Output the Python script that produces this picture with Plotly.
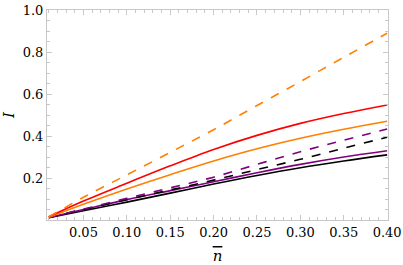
import plotly.graph_objects as go

n_bar = [0.01, 0.05, 0.10, 0.15, 0.20, 0.25, 0.30, 0.35, 0.40]

red_solid = [0.015, 0.090, 0.175, 0.258, 0.336, 0.403, 0.460, 0.507, 0.548]
orange_dashed = [0.015, 0.108, 0.215, 0.322, 0.430, 0.545, 0.659, 0.775, 0.889]
orange_solid = [0.013, 0.075, 0.148, 0.216, 0.281, 0.339, 0.389, 0.432, 0.470]
purple_dashed = [0.012, 0.052, 0.103, 0.153, 0.204, 0.265, 0.325, 0.380, 0.433]
black_dashed = [0.012, 0.050, 0.097, 0.143, 0.190, 0.240, 0.289, 0.342, 0.394]
purple_solid = [0.012, 0.050, 0.097, 0.140, 0.182, 0.225, 0.265, 0.300, 0.330]
black_solid = [0.011, 0.044, 0.085, 0.128, 0.171, 0.212, 0.249, 0.281, 0.310]

x_ticks = [0.05, 0.10, 0.15, 0.20, 0.25, 0.30, 0.35, 0.40]
y_ticks = [0.2, 0.4, 0.6, 0.8, 1.0]

series = [
    (black_solid, "black", "solid"),
    (purple_solid, "#800080", "solid"),
    (black_dashed, "black", "dash"),
    (purple_dashed, "#800080", "dash"),
    (orange_solid, "#FF8000", "solid"),
    (red_solid, "#FF0000", "solid"),
    (orange_dashed, "#FF8000", "dash"),
]

SERIF = "DejaVu Serif"

fig = go.Figure()
for ys, col, dash in series:
    fig.add_trace(go.Scatter(x=n_bar, y=ys, mode="lines",
                             line=dict(color=col, width=1.6, dash=dash, shape="spline", smoothing=1.0),
                             showlegend=False, hoverinfo="skip"))

axis_common = dict(showgrid=False, zeroline=False, showline=True, mirror="ticks",
                   linecolor="#c8c8c8", linewidth=1, ticks="inside", ticklen=5,
                   tickcolor="#c8c8c8", tickwidth=1,
                   tickfont=dict(family=SERIF, size=13, color="black"))

fig.update_xaxes(range=[0.008, 0.401], tickvals=x_ticks,
                 ticktext=[f"{v:.2f}" for v in x_ticks],
                 minor=dict(ticks="inside", ticklen=3, tickcolor="#c8c8c8", dtick=0.01, tick0=0),
                 title=dict(text="<span style='text-decoration:overline'><i>n</i></span>",
                            font=dict(family=SERIF, size=15, color="black"),
                            standoff=12),
                 **axis_common)
fig.update_yaxes(range=[0.0, 1.0], tickvals=y_ticks,
                 ticktext=[f"{v:.1f}" for v in y_ticks],
                 minor=dict(ticks="inside", ticklen=3, tickcolor="#c8c8c8", dtick=0.05, tick0=0),
                 title=dict(text="<i>I</i>", font=dict(family=SERIF, size=15, color="black"),
                            standoff=8),
                 **axis_common)

fig.update_layout(width=403, height=265, margin=dict(l=47, r=15, t=10, b=45, autoexpand=False),
                  paper_bgcolor="white", plot_bgcolor="white",
                  font=dict(family=SERIF))

fig.write_html("out.html", config={"displayModeBar": False},
               post_script="document.body.style.margin='0';")
